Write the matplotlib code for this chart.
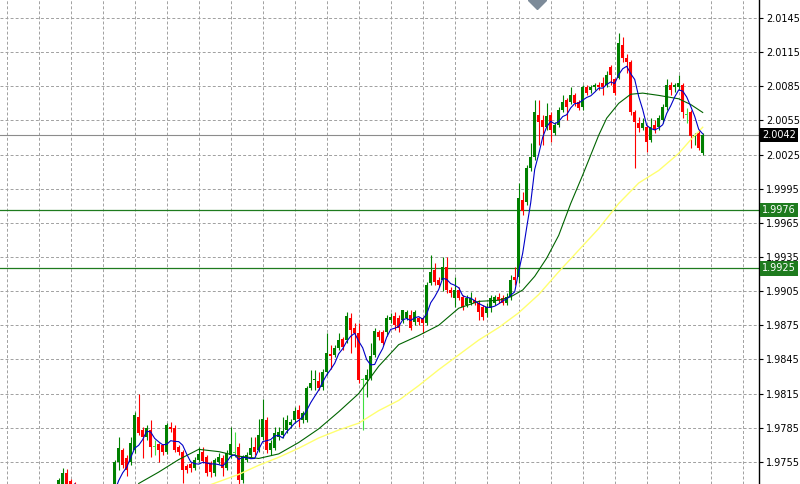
import numpy as np
import pandas as pd
import matplotlib
matplotlib.use('Agg')
import matplotlib.pyplot as plt
import matplotlib.transforms as mtransforms

# OHLC, one value per bar (bars 5-13 sit below the visible window)
opens = [
    1.9730, 1.9733, 1.9745, 1.9738, 1.9733, 1.9727, 1.9721, 1.9716, 1.9719, 1.9715,
    1.9712, 1.9720, 1.9718, 1.9724, 1.9729, 1.9755, 1.9765, 1.9758, 1.9755, 1.9765,
    1.9794, 1.9783, 1.9777, 1.9783, 1.9768, 1.9771, 1.9770, 1.9764, 1.9786, 1.9785,
    1.9768, 1.9764, 1.9751, 1.9753, 1.9750, 1.9757, 1.9764, 1.9759, 1.9754, 1.9745,
    1.9755, 1.9758, 1.9750, 1.9761, 1.9763, 1.9768, 1.9739, 1.9757, 1.9761, 1.9768,
    1.9765, 1.9777, 1.9792, 1.9765, 1.9767, 1.9777, 1.9779, 1.9783, 1.9787, 1.9792,
    1.9801, 1.9792, 1.9792, 1.9820, 1.9827, 1.9826, 1.9821, 1.9834, 1.9850, 1.9849,
    1.9855, 1.9863, 1.9862, 1.9881, 1.9873, 1.9868, 1.9827, 1.9827, 1.9829, 1.9849,
    1.9869, 1.9869, 1.9869, 1.9880, 1.9883, 1.9881, 1.9880, 1.9881, 1.9884, 1.9878,
    1.9881, 1.9881, 1.9877, 1.9912, 1.9924, 1.9915, 1.9915, 1.9926, 1.9906, 1.9899,
    1.9906, 1.9900, 1.9893, 1.9895, 1.9897, 1.9895, 1.9891, 1.9886, 1.9890, 1.9895,
    1.9900, 1.9899, 1.9895, 1.9900, 1.9917, 1.9917, 1.9985, 1.9983, 2.0013, 2.0023,
    2.0060, 2.0055, 2.0049, 2.0060, 2.0044, 2.0051, 2.0064, 2.0073, 2.0071, 2.0077,
    2.0071, 2.0067, 2.0084, 2.0082, 2.0084, 2.0086, 2.0088, 2.0086, 2.0102, 2.0091,
    2.0092, 2.0121, 2.0110, 2.0106, 2.0062, 2.0053, 2.0048, 2.0049, 2.0038, 2.0051,
    2.0049, 2.0055, 2.0067, 2.0086, 2.0084, 2.0084, 2.0086, 2.0060, 2.0062, 2.0040,
    2.0044, 2.0026]
highs = [
    1.9741, 1.9750, 1.9749, 1.9740, 1.9737, 1.9731, 1.9726, 1.9722, 1.9725, 1.9720,
    1.9722, 1.9727, 1.9726, 1.9732, 1.9757, 1.9777, 1.9767, 1.9761, 1.9777, 1.9799,
    1.9815, 1.9786, 1.9787, 1.9792, 1.9774, 1.9772, 1.9771, 1.9789, 1.9790, 1.9787,
    1.9770, 1.9765, 1.9753, 1.9755, 1.9759, 1.9768, 1.9768, 1.9761, 1.9756, 1.9758,
    1.9763, 1.9761, 1.9765, 1.9786, 1.9781, 1.9772, 1.9761, 1.9764, 1.9777, 1.9777,
    1.9793, 1.9810, 1.9794, 1.9774, 1.9786, 1.9786, 1.9794, 1.9796, 1.9793, 1.9803,
    1.9805, 1.9800, 1.9822, 1.9836, 1.9836, 1.9834, 1.9837, 1.9868, 1.9858, 1.9858,
    1.9868, 1.9865, 1.9887, 1.9886, 1.9877, 1.9877, 1.9829, 1.9837, 1.9859, 1.9873,
    1.9871, 1.9871, 1.9884, 1.9886, 1.9887, 1.9884, 1.9888, 1.9888, 1.9888, 1.9888,
    1.9882, 1.9882, 1.9913, 1.9937, 1.9930, 1.9917, 1.9935, 1.9935, 1.9909, 1.9917,
    1.9909, 1.9902, 1.9902, 1.9904, 1.9900, 1.9897, 1.9893, 1.9895, 1.9902, 1.9902,
    1.9903, 1.9902, 1.9903, 1.9919, 1.9926, 2.0000, 1.9992, 2.0016, 2.0035, 2.0073,
    2.0073, 2.0060, 2.0070, 2.0062, 2.0054, 2.0067, 2.0077, 2.0075, 2.0084, 2.0079,
    2.0073, 2.0086, 2.0086, 2.0086, 2.0088, 2.0089, 2.0093, 2.0098, 2.0104, 2.0092,
    2.0132, 2.0128, 2.0113, 2.0108, 2.0064, 2.0058, 2.0057, 2.0051, 2.0057, 2.0055,
    2.0060, 2.0069, 2.0091, 2.0089, 2.0088, 2.0095, 2.0088, 2.0066, 2.0064, 2.0044,
    2.0047, 2.0044]
lows = [
    1.9725, 1.9728, 1.9730, 1.9728, 1.9724, 1.9718, 1.9712, 1.9710, 1.9713, 1.9708,
    1.9709, 1.9714, 1.9713, 1.9719, 1.9726, 1.9748, 1.9750, 1.9743, 1.9752, 1.9763,
    1.9779, 1.9758, 1.9774, 1.9759, 1.9761, 1.9755, 1.9761, 1.9762, 1.9781, 1.9764,
    1.9761, 1.9736, 1.9745, 1.9746, 1.9748, 1.9755, 1.9754, 1.9743, 1.9742, 1.9743,
    1.9753, 1.9743, 1.9748, 1.9758, 1.9759, 1.9733, 1.9736, 1.9755, 1.9759, 1.9761,
    1.9764, 1.9774, 1.9763, 1.9761, 1.9765, 1.9774, 1.9776, 1.9780, 1.9785, 1.9789,
    1.9786, 1.9789, 1.9790, 1.9818, 1.9818, 1.9818, 1.9818, 1.9831, 1.9837, 1.9847,
    1.9853, 1.9853, 1.9859, 1.9851, 1.9856, 1.9824, 1.9783, 1.9812, 1.9827, 1.9847,
    1.9862, 1.9858, 1.9866, 1.9877, 1.9871, 1.9869, 1.9877, 1.9880, 1.9871, 1.9875,
    1.9875, 1.9868, 1.9875, 1.9910, 1.9910, 1.9909, 1.9905, 1.9903, 1.9900, 1.9891,
    1.9897, 1.9888, 1.9891, 1.9893, 1.9893, 1.9880, 1.9880, 1.9882, 1.9887, 1.9893,
    1.9895, 1.9893, 1.9893, 1.9897, 1.9910, 1.9912, 1.9972, 1.9981, 2.0011, 2.0020,
    2.0033, 2.0033, 2.0047, 2.0036, 2.0042, 2.0049, 2.0062, 2.0055, 2.0069, 2.0068,
    2.0064, 2.0064, 2.0077, 2.0079, 2.0082, 2.0082, 2.0077, 2.0084, 2.0086, 2.0077,
    2.0091, 2.0106, 2.0097, 2.0060, 2.0013, 2.0045, 2.0047, 2.0027, 2.0036, 2.0044,
    2.0047, 2.0053, 2.0064, 2.0077, 2.0080, 2.0082, 2.0057, 2.0053, 2.0031, 2.0033,
    2.0029, 2.0025]
closes = [
    1.9739, 1.9745, 1.9735, 1.9732, 1.9727, 1.9721, 1.9716, 1.9719, 1.9715, 1.9712,
    1.9720, 1.9718, 1.9724, 1.9729, 1.9755, 1.9767, 1.9752, 1.9748, 1.9772, 1.9796,
    1.9780, 1.9777, 1.9785, 1.9768, 1.9768, 1.9765, 1.9764, 1.9787, 1.9784, 1.9765,
    1.9764, 1.9748, 1.9748, 1.9750, 1.9757, 1.9762, 1.9756, 1.9745, 1.9746, 1.9757,
    1.9759, 1.9750, 1.9763, 1.9771, 1.9763, 1.9739, 1.9759, 1.9761, 1.9767, 1.9764,
    1.9779, 1.9793, 1.9765, 1.9772, 1.9780, 1.9781, 1.9782, 1.9792, 1.9790, 1.9800,
    1.9793, 1.9798, 1.9820, 1.9824, 1.9828, 1.9820, 1.9834, 1.9851, 1.9848, 1.9855,
    1.9862, 1.9856, 1.9883, 1.9871, 1.9868, 1.9827, 1.9827, 1.9831, 1.9848, 1.9870,
    1.9865, 1.9859, 1.9881, 1.9882, 1.9875, 1.9873, 1.9888, 1.9887, 1.9873, 1.9887,
    1.9878, 1.9877, 1.9910, 1.9922, 1.9913, 1.9910, 1.9926, 1.9906, 1.9903, 1.9906,
    1.9899, 1.9891, 1.9899, 1.9899, 1.9895, 1.9887, 1.9882, 1.9891, 1.9899, 1.9900,
    1.9897, 1.9895, 1.9900, 1.9915, 1.9915, 1.9987, 1.9975, 2.0013, 2.0023, 2.0062,
    2.0054, 2.0049, 2.0059, 2.0047, 2.0051, 2.0064, 2.0071, 2.0067, 2.0077, 2.0070,
    2.0066, 2.0084, 2.0079, 2.0084, 2.0086, 2.0084, 2.0084, 2.0095, 2.0095, 2.0079,
    2.0123, 2.0110, 2.0106, 2.0062, 2.0054, 2.0048, 2.0053, 2.0036, 2.0049, 2.0047,
    2.0057, 2.0067, 2.0086, 2.0082, 2.0086, 2.0088, 2.0062, 2.0060, 2.0041, 2.0042,
    2.0031, 2.0042]

green_ma_bars = [20, 25, 30, 35, 40, 45, 50, 55, 60, 65, 70, 75, 80, 85, 90, 95, 100,
                 105, 110, 113, 116, 119, 122, 125, 128, 131, 135, 137, 140, 143, 146,
                 150, 155, 158, 161]
green_ma = [1.9736, 1.9746, 1.9757, 1.9766, 1.9764, 1.9760, 1.9758, 1.9762, 1.9772,
            1.9784, 1.9799, 1.9815, 1.9839, 1.9858, 1.9866, 1.9875, 1.9890, 1.9896,
            1.9897, 1.9900, 1.9906, 1.9918, 1.9934, 1.9954, 1.9982, 2.0007, 2.0042,
            2.0057, 2.0070, 2.0078, 2.0079, 2.0077, 2.0074, 2.0069, 2.0062]
yellow_ma_bars = [38, 45, 50, 55, 60, 65, 70, 75, 80, 85, 90, 95, 100, 105, 110, 115,
                  120, 125, 130, 135, 140, 145, 150, 155, 158, 161]
yellow_ma = [1.9735, 1.9744, 1.9752, 1.9759, 1.9767, 1.9776, 1.9783, 1.9789, 1.9800,
             1.9809, 1.9822, 1.9836, 1.9849, 1.9862, 1.9873, 1.9886, 1.9902, 1.9922,
             1.9941, 1.9960, 1.9982, 2.0000, 2.0011, 2.0026, 2.0038, 2.0049]

price_ticks = [2.0145, 2.0115, 2.0085, 2.0055, 2.0025, 1.9995, 1.9965, 1.9935,
               1.9905, 1.9875, 1.9845, 1.9815, 1.9785, 1.9755]
last_price = 2.0042
levels = [1.9976, 1.9925]

o = np.array(opens)
h = np.array(highs)
l = np.array(lows)
c = np.array(closes)
x = np.arange(len(o))

fig = plt.figure(figsize=(8, 4.84), dpi=100)
ax = fig.add_axes([0, 0, 759 / 800, 1])

up = c > o + 0.00004
down = c < o - 0.00004
cols = np.where(up, '#008000', np.where(down, '#ff0000', '#3fe03f'))

ax.vlines(x, l, h, colors=cols, lw=0.8, zorder=3)
ax.bar(x, np.maximum(np.abs(c - o), 0.00009), 0.75, bottom=np.minimum(o, c),
       color=cols, lw=0, zorder=3)

ma5 = pd.Series(c).rolling(5).mean()
ax.plot(green_ma_bars, green_ma, color='#006400', lw=0.8, zorder=4)
ax.plot(yellow_ma_bars, yellow_ma, color='#ffff70', lw=1.0, zorder=4)
ax.plot(x, ma5, color='#0000c8', lw=0.8, zorder=5)

ax.axhline(last_price, color='#8c8c8c', lw=0.8, zorder=2)
for lv in levels:
    ax.axhline(lv, color='#1e7b1e', lw=0.9, zorder=2)

ax.set_xlim(-14.675, 175.075)
ax.set_ylim(1.973555, 2.016081)
ax.set_yticks(price_ticks)
ax.set_yticklabels(['%.4f' % t for t in price_ticks])
ax.set_xticks(np.arange(-12.925, 175, 8))
ax.grid(True, color='#a0a0a0', ls=(0, (3, 2.2)), lw=0.7, zorder=1)

ax.tick_params(axis='x', length=0, labelbottom=False)
ax.tick_params(axis='y', left=False, labelleft=False, right=True, labelright=True,
               length=3, width=0.8, labelsize=7, pad=2, colors='black')
for s in ['top', 'left', 'bottom']:
    ax.spines[s].set_visible(False)
ax.spines['right'].set_color('black')
ax.spines['right'].set_linewidth(1.0)

trans = mtransforms.blended_transform_factory(ax.transAxes, ax.transData)
ax.text(1.004, last_price, '%.4f' % last_price, transform=trans, va='center', ha='left',
        fontsize=7, color='white', clip_on=False, zorder=10,
        bbox=dict(boxstyle='square,pad=0.22', fc='black', ec='none'))
for lv in levels:
    ax.text(1.004, lv, '%.4f' % lv, transform=trans, va='center', ha='left',
            fontsize=7, color='white', clip_on=False, zorder=10,
            bbox=dict(boxstyle='square,pad=0.22', fc='#1e7b1e', ec='none'))

# chart shift marker at the top edge
ax.plot([537 / 759], [1.0], marker='D', ms=9, color='#7d8b99', transform=ax.transAxes,
        clip_on=True, zorder=6)

fig.savefig('out.png', dpi=100)
